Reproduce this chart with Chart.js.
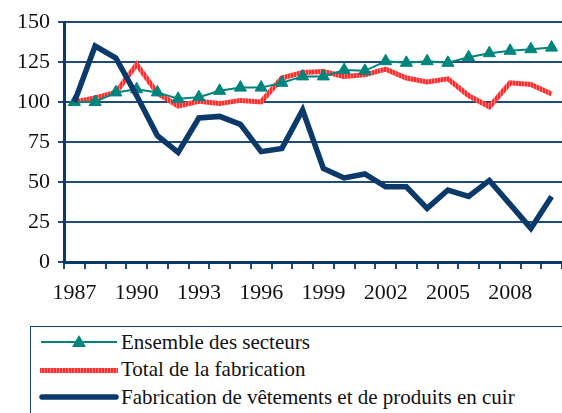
<!DOCTYPE html>
<html>
<head>
<meta charset="utf-8">
<script src="https://cdn.jsdelivr.net/npm/chart.js@4"></script>
<style>
  body { margin: 0; overflow: hidden; background: #fff;
    font-family: 'Liberation Serif', 'Times New Roman', serif; }
  #clip { position: absolute; left: 0; top: 0; width: 562px; height: 312px; overflow: hidden; }
  #wrap { position: absolute; left: 0; top: 0; width: 570px; height: 312px; }
  #legend { position: absolute; left: 30px; top: 326px; width: 532px; height: 87px;
    border: 1.5px solid #1a3f6b; border-right: none; border-bottom: none; box-sizing: border-box;
    font-family: 'Liberation Serif', 'Times New Roman', serif; font-size: 21px; color: #111; }
  .row { position: absolute; left: 8px; height: 26px; display: flex; align-items: center; white-space: nowrap; }
  .row svg { margin-right: 2px; }
</style>
</head>
<body>
<div id="clip"><div id="wrap"><canvas id="chart" width="570" height="312"></canvas></div></div>
<div id="legend"></div>
<script>
const annees = ['1987','1988','1989','1990','1991','1992','1993','1994','1995','1996','1997','1998',
  '1999','2000','2001','2002','2003','2004','2005','2006','2007','2008','2009','2010'];
const ensembleSecteurs = [100, 100, 106, 108, 106, 102, 103, 107, 109, 109, 112, 116,
  116, 120, 119.5, 125.5, 124.5, 125.5, 124.5, 128, 130.5, 132, 133, 134];
const totalFabrication = [100, 102.5, 106, 123.5, 105.5, 97.5, 100.5, 99, 101, 100, 115, 118.5,
  119, 116, 117, 120.5, 115, 112.5, 114.5, 104, 97, 112, 111, 105];
const vetementsCuir = [100, 135, 127.5, 104, 79, 68.5, 90, 91, 86, 69, 71, 95,
  58.5, 52.5, 55, 47, 47, 33.5, 45, 41, 51, 36, 21, 41];
const libelles = ['Ensemble des secteurs', 'Total de la fabrication', 'Fabrication de vêtements et de produits en cuir'];

const TEAL = '#00857d';
const NAVY = '#0b3a6a';
const GRID = '#1d4b7c';

// rayures verticales pour la courbe rouge
function motifRouge(ctx) {
  const c = document.createElement('canvas');
  c.width = 3; c.height = 3;
  const g = c.getContext('2d');
  g.fillStyle = '#ff2e2e';
  g.fillRect(0, 0, 3, 3);
  g.fillStyle = '#ff7a7a';
  g.fillRect(2, 0, 1, 3);
  return ctx.createPattern(c, 'repeat');
}

Chart.defaults.font.family = "'Liberation Serif', 'Times New Roman', serif";

const canvas = document.getElementById('chart');
const ctx = canvas.getContext('2d');
const police = { size: 22 };

new Chart(canvas, {
  type: 'line',
  data: {
    labels: annees,
    datasets: [
      {
        label: libelles[2],
        data: vetementsCuir,
        borderColor: NAVY,
        borderWidth: 5.5,
        pointRadius: 0,
        tension: 0,
        order: 0
      },
      {
        label: libelles[0],
        data: ensembleSecteurs,
        borderColor: TEAL,
        borderWidth: 2,
        pointStyle: 'triangle',
        pointRadius: 7,
        pointBackgroundColor: TEAL,
        pointBorderColor: TEAL,
        pointBorderWidth: 1,
        tension: 0,
        order: 1
      },
      {
        label: libelles[1],
        data: totalFabrication,
        borderColor: motifRouge(ctx),
        borderWidth: 5,
        pointRadius: 0,
        tension: 0,
        order: 2
      }
    ]
  },
  options: {
    responsive: false,
    animation: false,
    layout: { padding: { top: 22, right: 0, left: 0, bottom: 0 } },
    plugins: { legend: { display: false }, tooltip: { enabled: false } },
    scales: {
      x: {
        offset: true,
        grid: { offset: true, drawOnChartArea: false, drawTicks: true, tickLength: 7, color: GRID, lineWidth: 2 },
        border: { color: NAVY, width: 3 },
        ticks: {
          autoSkip: false, maxRotation: 0, padding: 11, color: '#111', font: police,
          callback: (v, i) => (i % 3 === 0 ? annees[i] : '')
        },
        afterFit: s => { s.height = 312 - 262; }
      },
      y: {
        min: 0, max: 150,
        ticks: { stepSize: 25, padding: 8, color: '#111', font: police },
        grid: { color: GRID, lineWidth: 2, tickLength: 6 },
        border: { color: NAVY, width: 3 },
        afterFit: s => { s.width = 64; }
      }
    }
  }
});

// légende
const legende = document.getElementById('legend');
const echantillons = [
  `<svg width="80" height="20"><line x1="2" y1="10" x2="78" y2="10" stroke="${TEAL}" stroke-width="2"/>
     <polygon points="40,3 47,15 33,15" fill="${TEAL}"/></svg>`,
  `<svg width="80" height="20"><defs><pattern id="rr" width="3" height="3" patternUnits="userSpaceOnUse">
     <rect width="3" height="3" fill="#ff2e2e"/><rect x="2" width="1" height="3" fill="#ff7a7a"/></pattern></defs>
     <rect x="1" y="8" width="78" height="5" fill="url(#rr)"/></svg>`,
  `<svg width="80" height="20"><line x1="3" y1="10" x2="77" y2="10" stroke="${NAVY}" stroke-width="5.5" stroke-linecap="round"/></svg>`
];
libelles.forEach((txt, i) => {
  const r = document.createElement('div');
  r.className = 'row';
  r.style.top = (2 + i * 27.5) + 'px';
  r.innerHTML = echantillons[i] + '<span>' + txt + '</span>';
  legende.appendChild(r);
});
</script>
</body>
</html>
